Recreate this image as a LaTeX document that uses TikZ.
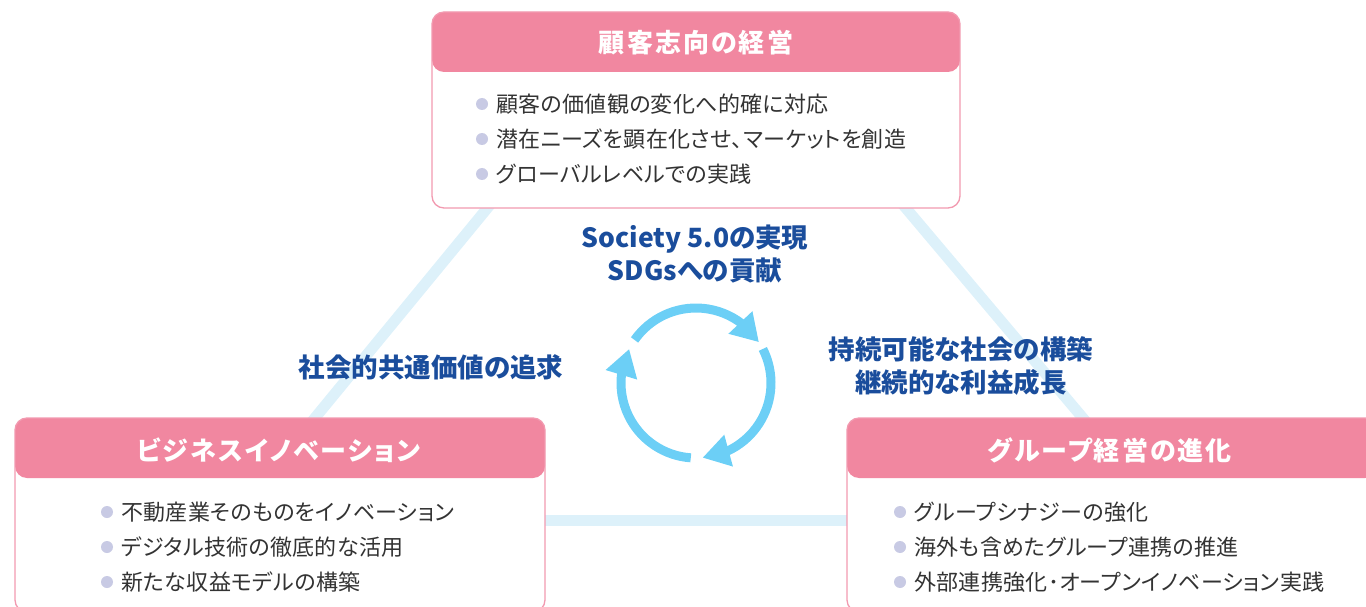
\documentclass[tikz,border=0pt]{standalone}
\usepackage{fontspec}
\usetikzlibrary{arrows.meta,bending}
\newfontfamily\jp[RawFeature=+palt]{Noto Sans CJK JP}
\newfontfamily\jph[LetterSpace=8,RawFeature=+palt]{Noto Sans CJK JP}
\newfontfamily\jpi[LetterSpace=1.5,RawFeature=+palt]{Noto Sans CJK JP}
\definecolor{hdrc}{HTML}{F187A0}
\definecolor{boxline}{HTML}{F29AB0}
\definecolor{trilc}{HTML}{DDF1FA}
\definecolor{cycc}{HTML}{6CCFF6}
\definecolor{labc}{HTML}{1A4D9C}
\definecolor{bodytxt}{HTML}{333333}
\definecolor{dotc}{HTML}{C8CAE4}
\pgfdeclarelayer{bg}
\pgfsetlayers{bg,main}
\tikzset{
  box/.style={draw=boxline, line width=1.3pt, fill=white, rounded corners=12pt, inner sep=0pt,
    path picture={\fill[hdrc] (path picture bounding box.north west) rectangle ([yshift=-60pt]path picture bounding box.north east);}},
  hdr/.style={text=white, font=\jph\bfseries\fontsize{26}{30}\selectfont, inner sep=0pt},
  item/.style={anchor=west, text=bodytxt, font=\jpi\fontsize{22}{25}\selectfont, inner sep=0pt},
  dot/.style={circle, fill=dotc, minimum size=12pt, inner sep=0pt},
  tri/.style={line width=11pt, draw=trilc},
  cyc/.style={line width=9pt, draw=cycc, -{Triangle[length=27pt,width=31pt,flex]}},
  lab/.style={text=labc, font=\jp\bfseries\fontsize{26.5}{33}\selectfont, align=center, inner sep=0pt},
}
\begin{document}
\begin{tikzpicture}[x=1pt,y=1pt]
\useasboundingbox (0,0) rectangle (1366,-607);
\clip (0,0) rectangle (1366,-607);

% boxes
\node[box, minimum width=528pt, minimum height=196pt] (top) at (696,-110) {};
\node[box, minimum width=530pt, minimum height=194pt] (left) at (280,-515) {};
\node[box, minimum width=530pt, minimum height=194pt] (right) at (1112,-515) {};

% triangle connectors
\coordinate (tl) at (494,-200);
\coordinate (lt) at (305,-430);
\coordinate (tr) at (899,-200);
\coordinate (rt) at (1093,-430);
\coordinate (lr) at (540,-520);
\coordinate (rl) at (852,-520);
\begin{pgfonlayer}{bg}
\draw[tri] (tl) -- (lt);
\draw[tri] (tr) -- (rt);
\draw[tri] (lr) -- (rl);
\end{pgfonlayer}

% headers
\node[hdr] (toph) at (696,-43) {顧客志向の経営};
\node[hdr] (lefth) at (279,-450) {ビジネスイノベーション};
\node[hdr] (righth) at (1110,-450) {グループ経営の進化};

% top items
\node[item] (t1) at (496,-104) {顧客の価値観の変化へ的確に対応};
\node[item] (t2) at (496,-139) {潜在ニーズを顕在化させ、マーケットを創造};
\node[item] (t3) at (496,-174) {グローバルレベルでの実践};
\node[dot] (td1) at (482,-104) {};
\node[dot] (td2) at (482,-139) {};
\node[dot] (td3) at (482,-174) {};

% left items
\node[item] (l1) at (121,-512) {不動産業そのものをイノベーション};
\node[item] (l2) at (121,-547) {デジタル技術の徹底的な活用};
\node[item] (l3) at (121,-582) {新たな収益モデルの構築};
\node[dot] (ld1) at (107,-512) {};
\node[dot] (ld2) at (107,-547) {};
\node[dot] (ld3) at (107,-582) {};

% right items
\node[item] (r1) at (914,-512) {グループシナジーの強化};
\node[item] (r2) at (914,-547) {海外も含めたグループ連携の推進};
\node[item] (r3) at (914,-582) {外部連携強化･オープンイノベーション実践};
\node[dot] (rd1) at (900,-512) {};
\node[dot] (rd2) at (900,-547) {};
\node[dot] (rd3) at (900,-582) {};

% labels
\node[lab] (labtop) at (695,-254) {Society 5.0の実現\\SDGsへの貢献};
\node[lab] (lableft) at (431,-367) {社会的共通価値の追求};
\node[lab] (labright) at (961,-366) {持続可能な社会の構築\\継続的な利益成長};

% cycle
\coordinate (c) at (696,-383);
\draw[cyc] ([shift={(145:75)}]c) arc[start angle=145, end angle=33, radius=75];
\draw[cyc] ([shift={(27:75)}]c) arc[start angle=27, end angle=-85, radius=75];
\draw[cyc] ([shift={(-94:75)}]c) arc[start angle=-94, end angle=-207, radius=75];
\end{tikzpicture}
\end{document}
